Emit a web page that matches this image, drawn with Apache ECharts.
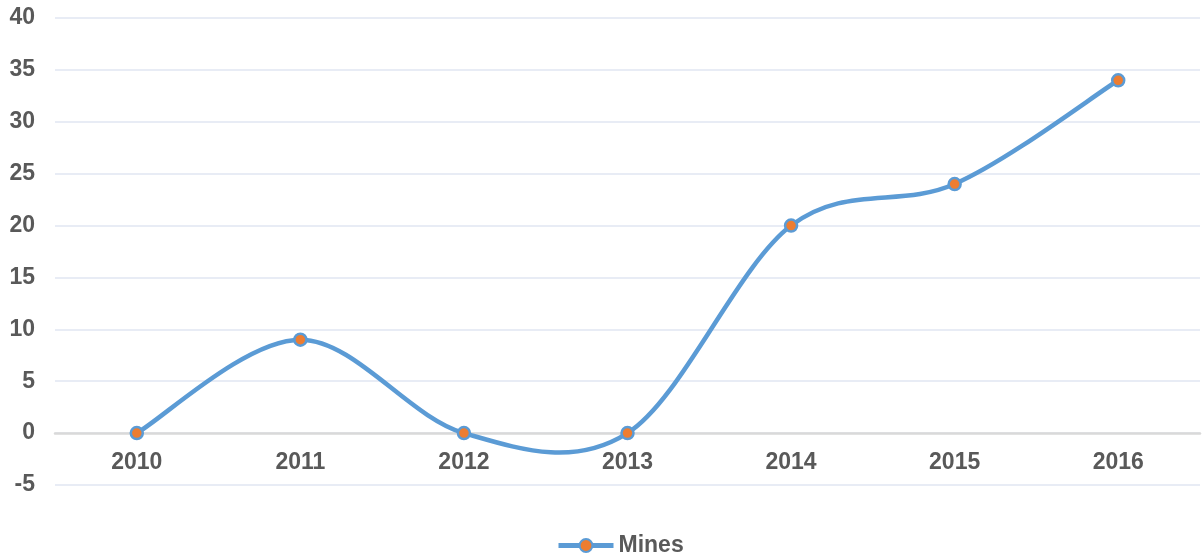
<!DOCTYPE html>
<html>
<head>
<meta charset="utf-8">
<script src="https://cdn.jsdelivr.net/npm/echarts@6/dist/echarts.min.js"></script>
<style>
  html, body { margin: 0; padding: 0; background: #ffffff; }
  #chart { width: 1202px; height: 560px; }
</style>
</head>
<body>
<div id="chart"></div>
<script>
// Yearly counts of mines
const years = ['2010', '2011', '2012', '2013', '2014', '2015', '2016'];
const mines = [0, 9, 0, 0, 20, 24, 34];
const seriesName = 'Mines';
const yTicks = { min: -5, max: 40, step: 5 };

const LINE_COLOR = '#5b9bd5';
const MARK_COLOR = '#ed7d31';

const labelFont = {
  fontFamily: 'Liberation Sans, Arial, sans-serif',
  fontWeight: 'bold',
  fontSize: 23,
  color: '#595959'
};

const grid = { left: 55, right: 2, top: 18, bottom: 75 };
const plotHeight = 560 - grid.top - grid.bottom;
// shift the category axis up so it sits on the zero line
const zeroOffset = -plotHeight * (0 - yTicks.min) / (yTicks.max - yTicks.min);

// Cardinal (Catmull-Rom) spline segment between point i and i+1,
// endpoints repeated at the ends of the series
function splineSegment(params, api) {
  const i = params.dataIndex;
  const n = mines.length;
  if (i >= n - 1) return null;
  const clampIdx = k => Math.min(Math.max(k, 0), n - 1);
  const pt = k => api.coord([clampIdx(k), mines[clampIdx(k)]]);
  const p0 = pt(i - 1), p1 = pt(i), p2 = pt(i + 1), p3 = pt(i + 2);
  return {
    type: 'bezierCurve',
    shape: {
      x1: p1[0], y1: p1[1],
      x2: p2[0], y2: p2[1],
      cpx1: p1[0] + (p2[0] - p0[0]) / 6, cpy1: p1[1] + (p2[1] - p0[1]) / 6,
      cpx2: p2[0] - (p3[0] - p1[0]) / 6, cpy2: p2[1] - (p3[1] - p1[1]) / 6
    },
    style: { fill: null, stroke: LINE_COLOR, lineWidth: 4.5, lineCap: 'round' },
    silent: true
  };
}

const chart = echarts.init(document.getElementById('chart'));
chart.setOption({
  animation: false,
  backgroundColor: '#ffffff',
  grid: Object.assign({ containLabel: false }, grid),
  legend: {
    top: 534,
    left: 556,
    padding: 0,
    itemWidth: 55,
    itemHeight: 16,
    itemGap: 10,
    textStyle: Object.assign({}, labelFont, { padding: [0, 0, 0, 0] }),
    lineStyle: { color: LINE_COLOR, width: 5, opacity: 1 },
    data: [seriesName]
  },
  xAxis: {
    type: 'category',
    data: years,
    boundaryGap: true,
    offset: zeroOffset,
    axisLine: { onZero: false, lineStyle: { color: '#d9d9d9', width: 2.5 } },
    axisTick: { show: false },
    axisLabel: Object.assign({ margin: 18 }, labelFont),
    splitLine: { show: false }
  },
  yAxis: {
    type: 'value',
    min: yTicks.min,
    max: yTicks.max,
    interval: yTicks.step,
    axisLine: { show: false },
    axisTick: { show: false },
    axisLabel: Object.assign({ margin: 20 }, labelFont),
    splitLine: { lineStyle: { color: '#e8ecf5', width: 2 } }
  },
  series: [
    {
      name: seriesName + ' curve',
      type: 'custom',
      data: mines.map((v, i) => [i, v]),
      renderItem: splineSegment,
      z: 2
    },
    {
      name: seriesName,
      type: 'line',
      data: mines,
      symbol: 'circle',
      symbolSize: 12,
      lineStyle: { color: LINE_COLOR, width: 4.5, opacity: 0 },
      itemStyle: { color: MARK_COLOR, borderColor: LINE_COLOR, borderWidth: 2.5 },
      z: 3
    }
  ]
});
</script>
</body>
</html>
